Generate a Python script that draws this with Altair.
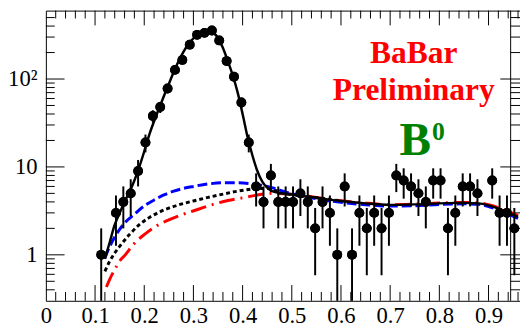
import altair as alt
import pandas as pd
import numpy as np

# ---- data points (bin centre, counts) ----
pt_x = [0.1125, 0.1425, 0.1575, 0.1725, 0.1875, 0.2025, 0.2175, 0.2325, 0.2475,
        0.2625, 0.2775, 0.2925, 0.3075, 0.3225, 0.3375, 0.3525, 0.3675, 0.3825, 0.3975,
        0.4125, 0.4275, 0.4425, 0.4575, 0.4725, 0.4875, 0.5025, 0.5175, 0.5325, 0.5475,
        0.5625, 0.5775, 0.5925, 0.6075, 0.6225, 0.6375, 0.6525, 0.6675, 0.6825, 0.6975,
        0.7125, 0.7275, 0.7425, 0.7575, 0.7725, 0.7875, 0.8025, 0.8175, 0.8325, 0.8475,
        0.8625, 0.8775, 0.9075, 0.9225, 0.9375, 0.9525]
pt_n = [1, 3, 4, 5, 9, 19, 38, 48, 78,
        127, 165, 246, 318, 335, 356, 275, 160, 106, 54,
        19, 6, 4, 8, 4, 4, 4, 5, 4, 2,
        4, 3, 1, 6, 1, 3, 2, 3, 2, 3,
        8, 7, 6, 5, 4, 7, 7, 2, 3, 6,
        6, 5, 7, 3, 3, 2]

# ---- fit curves ----
tot_x = [0.12, 0.13, 0.14, 0.15, 0.16, 0.17, 0.18, 0.19, 0.20, 0.21, 0.22, 0.23, 0.24, 0.25,
         0.26, 0.27, 0.28, 0.29, 0.30, 0.31, 0.32, 0.33, 0.34, 0.35, 0.36, 0.37, 0.38, 0.39,
         0.40, 0.41, 0.42, 0.43, 0.44, 0.45, 0.46, 0.48, 0.50, 0.55, 0.60, 0.65, 0.70, 0.75,
         0.80, 0.85, 0.88, 0.90, 0.92, 0.94, 0.96]
tot_y = [0.9, 1.4, 2.2, 3.0, 4.0, 5.2, 7.0, 10, 15, 23, 33, 46, 64, 88,
         120, 160, 205, 250, 290, 322, 342, 348, 335, 295, 225, 160, 110, 70,
         40, 22, 13.5, 9, 6.8, 5.8, 5.3, 5.0, 4.85, 4.45, 4.1, 3.85, 3.7, 3.75,
         3.85, 3.9, 3.85, 3.65, 3.35, 3.0, 2.7]

blue_x = [0.12, 0.13, 0.14, 0.15, 0.16, 0.18, 0.20, 0.22, 0.24, 0.26, 0.28, 0.30, 0.33, 0.36,
          0.39, 0.42, 0.45, 0.50, 0.55, 0.60, 0.65, 0.70, 0.75, 0.80, 0.85, 0.88, 0.90, 0.92,
          0.94, 0.96]
blue_y = [0.92, 1.25, 1.6, 1.95, 2.3, 2.9, 3.6, 4.2, 4.8, 5.3, 5.7, 6.0, 6.4, 6.6,
          6.6, 6.4, 6.0, 4.95, 4.35, 3.95, 3.72, 3.58, 3.62, 3.74, 3.8, 3.75, 3.55, 3.25,
          2.9, 2.6]

dot_x = [0.12, 0.13, 0.14, 0.15, 0.17, 0.19, 0.21, 0.23, 0.25, 0.27, 0.30, 0.33, 0.36, 0.39,
         0.42, 0.45, 0.48, 0.50, 0.55, 0.60]
dot_y = [0.65, 0.85, 1.05, 1.25, 1.7, 2.2, 2.65, 3.05, 3.4, 3.7, 4.1, 4.5, 4.9, 5.3,
         5.6, 5.7, 5.1, 4.85, 4.45, 4.1]

red_x = [0.123, 0.13, 0.14, 0.15, 0.16, 0.18, 0.20, 0.22, 0.25, 0.28, 0.31, 0.34, 0.37, 0.40,
         0.43, 0.46, 0.50, 0.55, 0.60, 0.65, 0.70, 0.75, 0.80, 0.85, 0.88, 0.90, 0.92, 0.94,
         0.96]
red_y = [0.43, 0.53, 0.68, 0.85, 0.98, 1.35, 1.7, 2.05, 2.5, 2.9, 3.3, 3.75, 4.15, 4.45,
         4.8, 5.0, 4.9, 4.5, 4.12, 3.88, 3.72, 3.78, 3.9, 3.95, 3.9, 3.72, 3.45, 3.12,
         2.8]

# ---- axis ticks / labels ----
x_labels = [0, 0.1, 0.2, 0.3, 0.4, 0.5, 0.6, 0.7, 0.8, 0.9]
x_major = [0.1, 0.2, 0.3, 0.4, 0.5, 0.6, 0.7, 0.8, 0.9]
x_minor = [round(0.02 * i, 2) for i in range(1, 49) if i % 5 != 0]
y_labels = [1, 10, 100]
y_minor = [0.4, 0.5, 0.6, 0.7, 0.8, 0.9, 2, 3, 4, 5, 6, 7, 8, 9,
           20, 30, 40, 50, 60, 70, 80, 90, 200, 300, 400, 500]

title_lines = ["BaBar", "Preliminary"]
meson = ["B"]
meson_sup = ["0"]

W, H = 482, 295
FONT = "Liberation Serif"

xs = alt.Scale(domain=[0, 0.964], nice=False, zero=False)
ys = alt.Scale(type="log", domain=[0.3, 600], nice=False)

XAX = alt.Axis(values=x_labels, ticks=False, domain=False, grid=False, labelFlush=False,
               labelPadding=4, title=None, labelFont=FONT, labelFontSize=23,
               labelColor="black",
               labelExpr="datum.value == 0 ? '0' : format(datum.value, '.1f')")
YAX = alt.Axis(values=y_labels, ticks=False, domain=False, grid=False, labelFlush=False,
               labelPadding=9, title=None, labelFont=FONT, labelFontSize=23,
               labelColor="black",
               labelExpr="datum.value >= 100 ? '10\u00b2' : format(datum.value, 'd')")

pts = pd.DataFrame({"x": pt_x, "n": pt_n})
err = np.sqrt(pts["n"])
pts["lo"] = np.maximum(pts["n"] - err, 0.3)
pts["hi"] = pts["n"] + err


def curve(xv, yv, color, width, dash=None):
    df = pd.DataFrame({"x": xv, "y": yv})
    kw = dict(color=color, strokeWidth=width, interpolate="monotone")
    if dash:
        kw["strokeDash"] = dash
    return alt.Chart(df).mark_line(**kw).encode(
        x=alt.X("x:Q", scale=xs, axis=XAX),
        y=alt.Y("y:Q", scale=ys, axis=YAX),
    )


def xticks(vals, y0, y1):
    return alt.Chart(pd.DataFrame({"v": vals})).mark_rule(color="black", strokeWidth=1).encode(
        x=alt.X("v:Q", scale=xs, axis=XAX), y=alt.value(y0), y2=alt.value(y1))


def yticks(vals, x0, x1):
    return alt.Chart(pd.DataFrame({"v": vals})).mark_rule(color="black", strokeWidth=1).encode(
        y=alt.Y("v:Q", scale=ys, axis=YAX), x=alt.value(x0), x2=alt.value(x1))


red_c = curve(red_x, red_y, "#ff0000", 3, [16, 6, 2, 6])
dot_c = curve(dot_x, dot_y, "black", 3, [4, 3])
blue_c = curve(blue_x, blue_y, "#0000ff", 3, [10, 4])
tot_c = curve(tot_x, tot_y, "black", 2.5)

bars = alt.Chart(pts).mark_rule(color="black", strokeWidth=2).encode(
    x=alt.X("x:Q", scale=xs, axis=XAX),
    y=alt.Y("lo:Q", scale=ys, axis=YAX),
    y2="hi:Q",
)

dots = alt.Chart(pts).mark_circle(color="black", opacity=1, size=100).encode(
    x=alt.X("x:Q", scale=xs, axis=XAX),
    y=alt.Y("n:Q", scale=ys, axis=YAX),
)

ticks = [
    xticks(x_major, H, H - 16), xticks(x_minor, H, H - 9),
    xticks(x_major, 0, 15), xticks(x_minor, 0, 8),
    yticks(y_labels, 0, 19), yticks(y_minor, 0, 9),
    yticks(y_labels, W, W - 20), yticks(y_minor, W, W - 9.5),
]

inner_line = alt.Chart(pd.DataFrame({"v": [0]})).mark_rule(color="black", strokeWidth=1).encode(
    x=alt.value(472.5), y=alt.value(0), y2=alt.value(H))


def label(txt, x, y, size, color, align="center"):
    return alt.Chart(pd.DataFrame({"t": txt})).mark_text(
        font=FONT, fontSize=size, fontWeight="bold", color=color, align=align,
        baseline="alphabetic").encode(text="t:N", x=alt.value(x), y=alt.value(y))


texts = [
    label([title_lines[0]], 374, 53.7, 32, "#ff0000"),
    label([title_lines[1]], 374, 91.3, 32, "#ff0000"),
    label(meson, 375.5, 147, 48, "#008000"),
    label(meson_sup, 392.5, 132, 26, "#008000", align="left"),
]

chart = alt.layer(
    dots, *ticks, inner_line, red_c, dot_c, blue_c, tot_c, bars, dots, *texts
).properties(
    width=W, height=H,
    padding={"left": 38.5, "top": 0, "right": 0, "bottom": 25},
    autosize="none",
    background="white",
).configure_view(
    stroke="black", strokeWidth=1
).configure_axis(
    labelFont=FONT, labelFontSize=23, labelColor="black"
)

chart.save("out.html", embed_options={"renderer": "svg", "actions": False})
